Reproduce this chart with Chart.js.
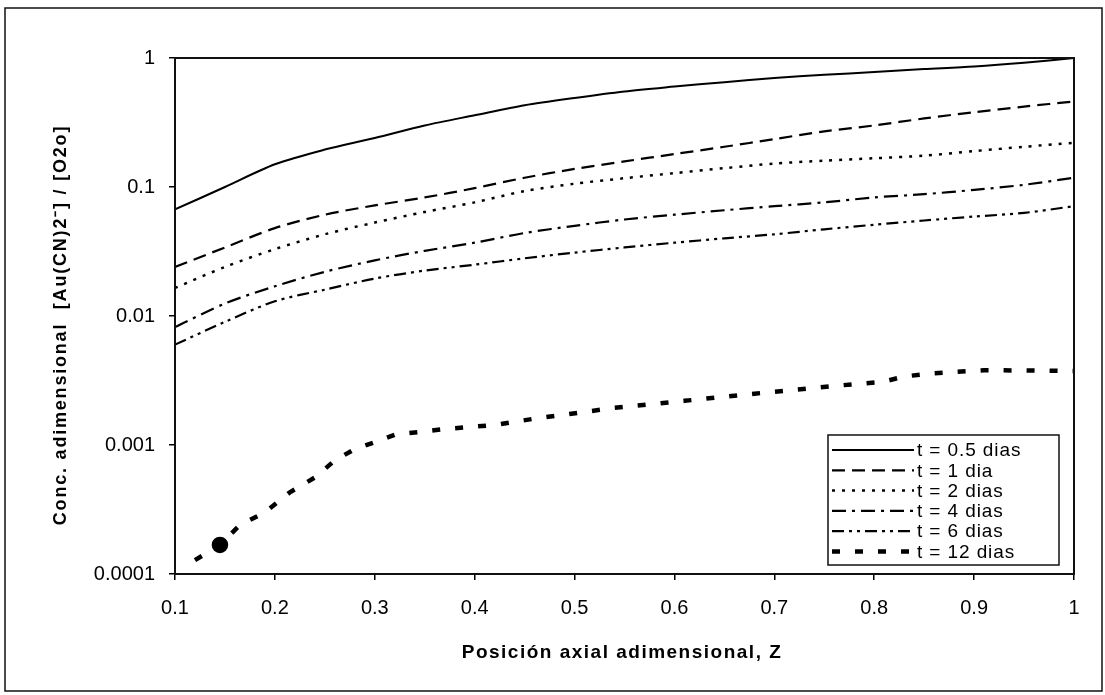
<!DOCTYPE html>
<html>
<head>
<meta charset="utf-8">
<script src="https://cdn.jsdelivr.net/npm/chart.js@4"></script>
<style>
  html, body { margin: 0; padding: 0; background: #fff; }
  #wrap { width: 1105px; height: 695px; position: relative; }
</style>
</head>
<body>
<div id="wrap"><canvas id="grafico"></canvas></div>
<script>
// posiciones axiales (eje x)
const posicionZ = [0.1, 0.15, 0.2, 0.25, 0.3, 0.35, 0.4, 0.45, 0.5, 0.55, 0.6, 0.65, 0.7, 0.75, 0.8, 0.85, 0.9, 0.95, 1.0];

// concentraciones para cada tiempo
const conc05 = [0.067, 0.1, 0.15, 0.195, 0.24, 0.3, 0.36, 0.43, 0.49, 0.55, 0.6, 0.65, 0.7, 0.74, 0.78, 0.82, 0.86, 0.92, 1.0];
const conc1 = [0.024, 0.034, 0.048, 0.061, 0.072, 0.083, 0.098, 0.118, 0.138, 0.158, 0.18, 0.205, 0.235, 0.27, 0.3, 0.34, 0.38, 0.42, 0.46];
const conc2 = [0.0165, 0.024, 0.033, 0.043, 0.053, 0.064, 0.076, 0.093, 0.106, 0.117, 0.128, 0.14, 0.152, 0.16, 0.167, 0.175, 0.19, 0.205, 0.22];
const conc4 = [0.0082, 0.0125, 0.017, 0.022, 0.027, 0.032, 0.037, 0.044, 0.05, 0.056, 0.061, 0.066, 0.071, 0.076, 0.083, 0.088, 0.095, 0.104, 0.118];
const conc6 = [0.006, 0.009, 0.013, 0.016, 0.0195, 0.0225, 0.025, 0.028, 0.031, 0.034, 0.037, 0.04, 0.043, 0.047, 0.051, 0.055, 0.059, 0.063, 0.071];

// la curva de 12 dias tiene sus propios puntos
const posicionZ12 = [0.12, 0.145, 0.165, 0.19, 0.215, 0.24, 0.26, 0.28, 0.3, 0.32, 0.37, 0.42, 0.46, 0.54, 0.61, 0.68, 0.76, 0.81, 0.83, 0.86, 0.91, 1.0];
const conc12 = [0.000128, 0.000168, 0.00024, 0.0003, 0.00043, 0.00056, 0.00076, 0.00093, 0.00105, 0.0012, 0.00133, 0.00143, 0.0016, 0.00194, 0.0022, 0.0025, 0.00287, 0.0031, 0.0034, 0.0036, 0.0038, 0.00375];

const etiquetas = ['t = 0.5 dias', 't = 1 dia', 't = 2 dias', 't = 4 dias', 't = 6 dias', 't = 12 dias'];

// marcas de los ejes
const ticksY = [1, 0.1, 0.01, 0.001, 0.0001];
const etiquetasY = ['1', '0.1', '0.01', '0.001', '0.0001'];
const ticksX = [0.1, 0.2, 0.3, 0.4, 0.5, 0.6, 0.7, 0.8, 0.9, 1.0];
const etiquetasX = ['0.1', '0.2', '0.3', '0.4', '0.5', '0.6', '0.7', '0.8', '0.9', '1'];

const fuente = '"Liberation Sans", Arial, sans-serif';

function pares(xs, ys) {
    return xs.map((x, i) => ({ x: x, y: ys[i] }));
}

const estilos = [
    { dash: [], ancho: 2 },
    { dash: [13, 7], ancho: 2.2 },
    { dash: [3, 7], ancho: 2.5 },
    { dash: [14, 6, 3, 6], ancho: 2.2 },
    { dash: [12, 5, 3, 5, 3, 5], ancho: 2.2 },
    { dash: [8, 15], ancho: 4.5 }
];

const series = [conc05, conc1, conc2, conc4, conc6];
const datasets = series.map((s, i) => ({
    label: etiquetas[i],
    data: pares(posicionZ, s),
    borderColor: '#000',
    borderWidth: estilos[i].ancho,
    borderDash: estilos[i].dash,
    pointRadius: 0,
    tension: 0.3,
    fill: false
}));
datasets.push({
    label: etiquetas[5],
    data: pares(posicionZ12, conc12),
    borderColor: '#000',
    backgroundColor: '#000',
    borderWidth: estilos[5].ancho,
    borderDash: estilos[5].dash,
    pointRadius: ctx => ctx.dataIndex === 1 ? 6 : 0,
    tension: 0,
    fill: false
});

// marco exterior, borde del area y textos de ejes
const decorado = {
    id: 'decorado',
    afterDraw(chart) {
        const c = chart.ctx;
        const a = chart.chartArea;
        c.save();
        c.strokeStyle = '#111';
        c.lineWidth = 1.5;
        c.strokeRect(5, 8, 1097, 683);
        c.lineWidth = 2;
        c.strokeRect(a.left, a.top, a.right - a.left, a.bottom - a.top);

        c.fillStyle = '#000';
        c.font = 'bold 19px ' + fuente;
        c.letterSpacing = '1.5px';
        c.textAlign = 'center';
        c.textBaseline = 'middle';
        c.fillText('Posición axial adimensional, Z', 622, 653);

        c.save();
        c.translate(61, 325);
        c.rotate(-Math.PI / 2);
        c.font = 'bold 18px ' + fuente;
        c.letterSpacing = '1.8px';
        c.fillText('Conc. adimensional  [Au(CN)2\u207B] / [O2o]', 0, 0);
        c.restore();

        // leyenda
        const lx = 828, ly = 435, lw = 231, lh = 130;
        c.fillStyle = '#fff';
        c.fillRect(lx, ly, lw, lh);
        c.strokeStyle = '#111';
        c.lineWidth = 1.5;
        c.strokeRect(lx, ly, lw, lh);
        c.font = '19px ' + fuente;
        c.letterSpacing = '0.9px';
        c.textAlign = 'left';
        chart.data.datasets.forEach((d, i) => {
            const y = ly + 15 + i * 20.3;
            c.beginPath();
            c.setLineDash(d.borderDash);
            c.lineWidth = d.borderWidth;
            c.strokeStyle = '#000';
            c.moveTo(lx + 4, y);
            c.lineTo(lx + 86, y);
            c.stroke();
            c.setLineDash([]);
            c.fillStyle = '#000';
            c.fillText(d.label, lx + 89, y + 1);
        });
        c.restore();
    }
};

new Chart(document.getElementById('grafico'), {
    type: 'line',
    data: { datasets: datasets },
    options: {
        responsive: true,
        maintainAspectRatio: false,
        animation: false,
        layout: { padding: { top: 58, right: 31, left: 0, bottom: 0 } },
        plugins: {
            legend: { display: false },
            tooltip: { enabled: false }
        },
        scales: {
            x: {
                type: 'linear',
                min: 0.1,
                max: 1,
                afterBuildTicks: scale => { scale.ticks = ticksX.map(v => ({ value: v })); },
                afterFit: scale => { scale.height = 121; },
                ticks: {
                    color: '#000',
                    font: { family: fuente, size: 20 },
                    padding: 16,
                    maxRotation: 0,
                    callback: (v, i) => etiquetasX[i]
                },
                grid: { display: true, drawOnChartArea: false, color: '#000', tickLength: 6, lineWidth: 1.5 },
                border: { display: false }
            },
            y: {
                type: 'logarithmic',
                min: 0.0001,
                max: 1,
                afterBuildTicks: scale => { scale.ticks = ticksY.map(v => ({ value: v })); },
                afterFit: scale => { scale.width = 175; },
                ticks: {
                    color: '#000',
                    font: { family: fuente, size: 20 },
                    padding: 14,
                    callback: (v, i) => etiquetasY[i]
                },
                grid: { display: true, drawOnChartArea: false, color: '#000', tickLength: 6, lineWidth: 1.5 },
                border: { display: false }
            }
        }
    },
    plugins: [decorado]
});
</script>
</body>
</html>
